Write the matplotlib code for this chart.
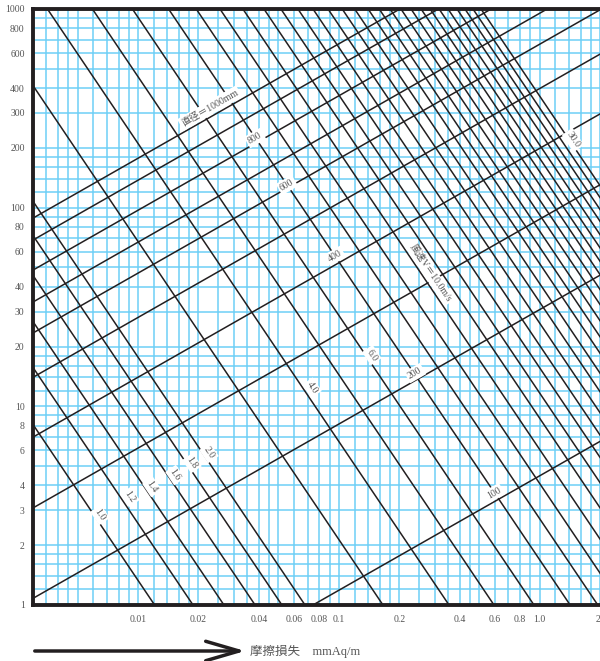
import matplotlib.pyplot as plt
import numpy as np

plt.rcParams['font.family'] = ['Liberation Serif', 'Noto Sans CJK JP']

# grid multipliers per decade
x_grid_mult = [1, 1.2, 1.4, 1.6, 1.8, 2, 2.5, 3, 3.5, 4, 4.5, 5, 6, 7, 8, 9]
y_grid_mult = [1, 1.2, 1.4, 1.6, 1.8, 2, 3, 4, 5, 6, 7, 8, 9]

x_ticks = [0.01, 0.02, 0.04, 0.06, 0.08, 0.1, 0.2, 0.4, 0.6, 0.8, 1.0, 2]
x_ticklabels = ['0.01', '0.02', '0.04', '0.06', '0.08', '0.1', '0.2',
                '0.4', '0.6', '0.8', '1.0', '2']
y_ticks = [1, 2, 3, 4, 6, 8, 10, 20, 30, 40, 60, 80, 100,
           200, 300, 400, 600, 800, 1000]

# air velocity lines (m/s): one point read on each line, shared slope
velocity = [1.0, 1.2, 1.4, 1.6, 1.8, 2.0, 3.0, 4.0, 5.0, 6.0, 7.0, 8.0,
            9, 10, 11, 12, 13, 14, 15, 16, 17, 18, 19, 20,
            21, 22, 23, 24, 25, 26, 27, 28, 29, 30]
vel_R = [0.0121, 0.0188, 0.0268, 0.0383, 0.0521, 0.0679, 0.166, 0.354,
         0.593, 0.938, 1.42, 1.95,
         0.0256, 0.0333, 0.0424, 0.0515, 0.0626, 0.0744, 0.0884, 0.104,
         0.120, 0.140, 0.159, 0.180, 0.204, 0.229, 0.257, 0.285,
         0.316, 0.350, 0.388, 0.425, 0.466, 0.511]
vel_Q = [1, 1, 1, 1, 1, 1, 1, 1, 1, 1, 1, 1,
         1000, 1000, 1000, 1000, 1000, 1000, 1000, 1000, 1000, 1000, 1000,
         1000, 1000, 1000, 1000, 1000, 1000, 1000, 1000, 1000, 1000, 1000]
vel_slope = -1.5

# duct diameter lines (mm)
diameter = [100, 200, 300, 400, 500, 600, 700, 800, 900, 1000]
dia_R = [0.0744, 0.003, 0.003, 0.003, 0.003, 0.003, 0.003, 0.003, 0.003, 0.003]
dia_Q = [1, 1.08, 3.08, 7.0, 14.0, 23.4, 33.5, 48.5, 68.7, 88.6]
dia_slope = 0.576

# labels
dia_lab_text = ['直径＝1000mm', '800', '600', '400', '200', '100']
dia_lab_R = [0.0228, 0.0383, 0.0552, 0.0957, 0.240, 0.593]
dia_lab_Q = [317, 224, 130, 57.1, 14.7, 3.66]

vel_lab_text = ['1.0', '1.2', '1.4', '1.6', '1.8', '2.0', '4.0', '6.0',
                '風速V＝10.0m/s', '30.0']
vel_lab_R = [0.00647, 0.00912, 0.01174, 0.01529, 0.01857, 0.02257,
             0.0735, 0.146, 0.285, 1.467]
vel_lab_Q = [2.84, 3.50, 3.93, 4.51, 5.18, 5.82, 12.4, 18.1, 46.9, 219]

cyan = '#6dcff6'
ink = '#231f20'
grey = '#555555'

fig = plt.figure(figsize=(6, 6.61), dpi=100)
ax = fig.add_axes([33 / 600, 56 / 661, 567 / 600, 596 / 661])
ax.set_xscale('log')
ax.set_yscale('log')

for dec in [0.001, 0.01, 0.1, 1]:
    for m in x_grid_mult:
        ax.axvline(m * dec, color=cyan, lw=1.1, zorder=1)
for dec in [1, 10, 100]:
    for m in y_grid_mult:
        ax.axhline(m * dec, color=cyan, lw=1.1, zorder=1)

q_ends = np.array([0.3, 3000.0])
for r0, q0 in zip(vel_R, vel_Q):
    ax.plot(r0 * (q_ends / q0) ** (1 / vel_slope), q_ends, color=ink, lw=1.1, zorder=2)
for r0, q0 in zip(dia_R, dia_Q):
    ax.plot(r0 * (q_ends / q0) ** (1 / dia_slope), q_ends, color=ink, lw=1.1, zorder=2)

box = dict(boxstyle='square,pad=0.2', fc='white', ec='none')
for t, r, q in zip(dia_lab_text, dia_lab_R, dia_lab_Q):
    ax.text(r, q, t, rotation=30, ha='center', va='center', fontsize=7,
            color=grey, bbox=box, zorder=3, rotation_mode='anchor')
for t, r, q in zip(vel_lab_text, vel_lab_R, vel_lab_Q):
    ax.text(r, q, t, rotation=-56, ha='center', va='center', fontsize=7,
            color=grey, bbox=box, zorder=3, rotation_mode='anchor')

ax.set_xlim(0.003, 2.0)
ax.set_ylim(1, 1000)
ax.set_xticks(x_ticks)
ax.set_xticklabels(x_ticklabels)
ax.set_yticks(y_ticks)
ax.set_yticklabels([str(v) for v in y_ticks])
ax.minorticks_off()
ax.tick_params(length=0, labelsize=7, labelcolor=grey)
ax.tick_params(axis='x', pad=7)
ax.tick_params(axis='y', pad=6)
ax.get_xticklabels()[-1].set_horizontalalignment('right')

for side in ['left', 'top', 'bottom']:
    ax.spines[side].set_linewidth(2.8)
    ax.spines[side].set_color(ink)
ax.spines['right'].set_visible(False)

ax.annotate('', xy=(248, 10), xytext=(32, 10), xycoords='figure pixels',
            textcoords='figure pixels',
            arrowprops=dict(arrowstyle='->,head_length=2.4,head_width=0.7',
                            lw=2.5, color=ink, mutation_scale=10))
fig.text(250 / 600, 10 / 661, '摩擦損失　mmAq/m', fontsize=9, color=grey,
         ha='left', va='center')

fig.savefig('out.png', dpi=100)
